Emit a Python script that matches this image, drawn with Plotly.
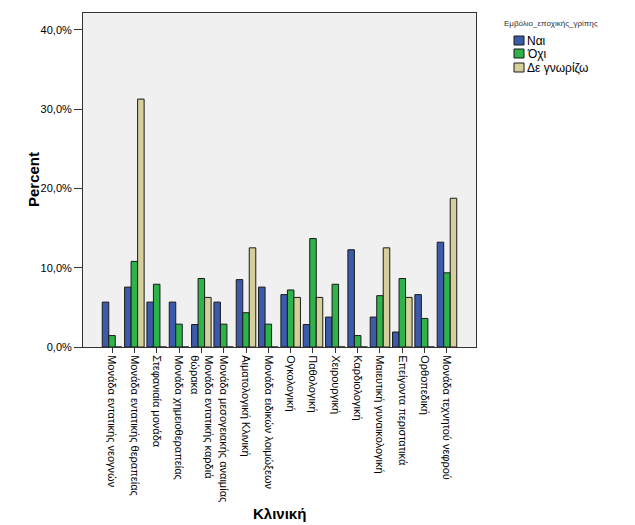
import plotly.graph_objects as go

categories = [
    "Μονάδα εντατικής νεογνών",
    "Μονάδα εντατικής θεραπείας",
    "Στεφανιαία μονάδα",
    "Μονάδα χημειοθεραπείας",
    "Μονάδα εντατικής καρδιά<br>θώρακα",
    "Μονάδα μεσογειακής αναιμίας",
    "Αιματολογική Κλινική",
    "Μονάδα ειδικών λοιμώξεων",
    "Ογκολογική",
    "Παθολογική",
    "Χειρουργική",
    "Καρδιολογική",
    "Μαιευτική γυναικολογική",
    "Επείγοντα περιστατικά",
    "Ορθοπεδική",
    "Μονάδα τεχνητού νεφρού",
]

nai = [5.66, 7.55, 5.66, 5.66, 2.83, 5.66, 8.49, 7.55, 6.60, 2.83, 3.77, 12.26, 3.77, 1.89, 6.60, 13.21]
oxi = [1.44, 10.79, 7.91, 2.88, 8.63, 2.88, 4.32, 2.88, 7.19, 13.67, 7.91, 1.44, 6.47, 8.63, 3.60, 9.35]
de_gnorizo = [0, 31.25, 0, 0, 6.25, 0, 12.5, 0, 6.25, 6.25, 0, 0, 12.5, 6.25, 0, 18.75]

y_ticks = [0, 10, 20, 30, 40]
y_tick_labels = ["0,0%", "10,0%", "20,0%", "30,0%", "40,0%"]

legend_title = "Εμβόλιο_εποχικής_γρίπης"
series_names = ["Ναι", "Όχι", "Δε γνωρίζω"]
series_values = [nai, oxi, de_gnorizo]
series_colors = ["#3C5AAA", "#2DB34A", "#D4CF9B"]

# figure geometry (page has an 8px body margin)
W, H = 627, 517
L, R, T, B = 75, 159, 5, 178
PW, PH = W - L - R, H - T - B

def px_x(x):  # figure pixel -> paper x
    return (x - L) / PW

def px_y(y):  # figure pixel -> paper y
    return 1 - (y - T) / PH

fig = go.Figure()
for name, vals, col in zip(series_names, series_values, series_colors):
    fig.add_trace(go.Bar(
        x=list(range(len(categories))), y=vals, name=name,
        marker=dict(color=col, line=dict(color="#1a1a1a", width=1)),
    ))

font = "Liberation Sans, Arial, sans-serif"

# manual legend (SPSS style compact)
shapes = []
annotations = []
annotations.append(dict(
    text=legend_title, xref="paper", yref="paper",
    x=px_x(494), y=px_y(15), xanchor="left", yanchor="middle",
    showarrow=False, font=dict(size=8, color="#333333"),
))
sw_tops = [28, 41, 55]
for name, col, top in zip(series_names, series_colors, sw_tops):
    shapes.append(dict(
        type="rect", xref="paper", yref="paper",
        x0=px_x(506), x1=px_x(516), y0=px_y(top + 9), y1=px_y(top),
        fillcolor=col, line=dict(color="#1a1a1a", width=1),
    ))
    annotations.append(dict(
        text=name, xref="paper", yref="paper",
        x=px_x(517), y=px_y(top + 5), xanchor="left", yanchor="middle",
        showarrow=False, font=dict(size=12, color="#000000"),
    ))

annotations.append(dict(
    text="<b>Κλινική</b>", xref="paper", yref="paper",
    x=0.5, y=px_y(505), xanchor="center", yanchor="middle",
    showarrow=False, font=dict(size=15, color="#000000"),
))
annotations.append(dict(
    text="<b>Percent</b>", xref="paper", yref="paper",
    x=px_x(25), y=0.5, xanchor="center", yanchor="middle", textangle=-90,
    showarrow=False, font=dict(size=15, color="#000000"),
))

fig.update_layout(
    width=W, height=H,
    margin=dict(l=L, r=R, t=T, b=B, autoexpand=False),
    paper_bgcolor="white", plot_bgcolor="#F0F0F0",
    barmode="group", bargap=0.125, bargroupgap=0,
    font=dict(family=font, color="#000000", size=11),
    showlegend=False,
    shapes=shapes,
    annotations=annotations,
    xaxis=dict(
        tickmode="array", tickvals=list(range(len(categories))), ticktext=categories,
        tickangle=90, range=[-1.3, 16.3],
        showline=True, mirror=True, linecolor="#333333", linewidth=1,
        ticks="outside", ticklen=5, tickcolor="#333333",
        tickfont=dict(size=11), showgrid=False, automargin=False,
    ),
    yaxis=dict(
        range=[0, 42.1], tickmode="array", tickvals=y_ticks, ticktext=y_tick_labels,
        showline=True, mirror=True, linecolor="#333333", linewidth=1,
        ticks="outside", ticklen=8, tickcolor="#333333",
        tickfont=dict(size=11), showgrid=False, zeroline=False, automargin=False,
    ),
)

fig.write_html("out.html")
